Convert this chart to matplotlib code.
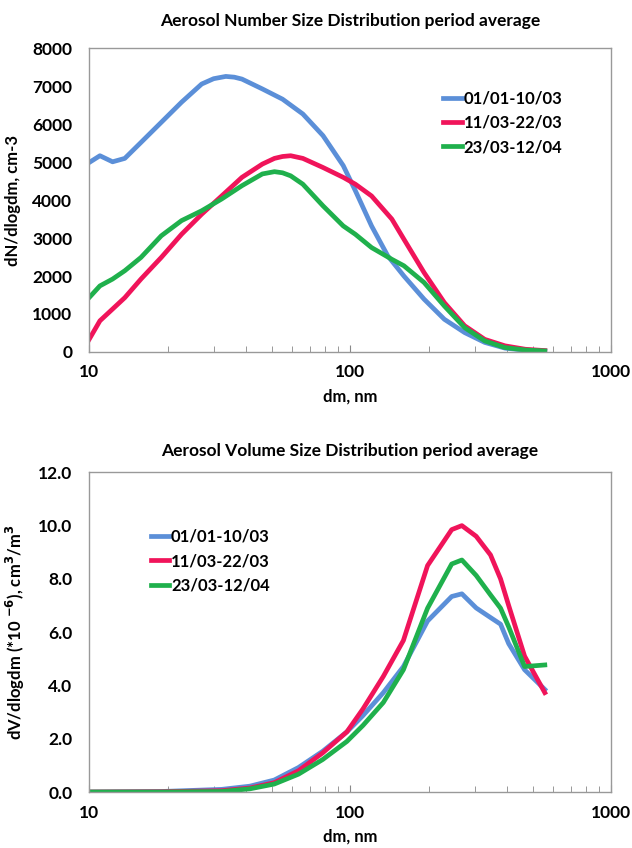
import matplotlib
matplotlib.use("Agg")
import matplotlib.pyplot as plt
from matplotlib.ticker import FixedLocator, LogLocator, NullFormatter

plt.rcParams["font.family"] = ["Lato", "DejaVu Sans"]
plt.rcParams["font.weight"] = "bold"

labels = ["01/01-10/03", "11/03-22/03", "23/03-12/04"]
colors = ["#5b8fd8", "#f0145a", "#1fb04c"]

# Number size distribution (dN/dlogdm, cm-3)
dm_n = [10, 11, 12.3, 13.7, 15.8, 18.9, 22.6, 27.0, 30.0, 33.4, 36.0, 38.5,
        46.1, 55.1, 65.9, 78.7, 94.1, 104.7, 120.8, 139.4, 160.7, 192, 229.6,
        274.6, 328, 392, 469, 557]
n_blue = [4990, 5170, 5010, 5100, 5520, 6050, 6580, 7060, 7200, 7260, 7240,
          7190, 6930, 6660, 6270, 5700, 4910, 4250, 3320, 2530, 2000, 1390,
          860, 510, 250, 100, 45, 25]
dm_n2 = [10, 11, 12.3, 13.7, 15.8, 18.9, 22.6, 27.0, 32.2, 38.5, 46.1, 51.3,
         55.1, 59.2, 65.9, 78.7, 94.1, 104.7, 120.8, 144.5, 160.7, 192, 229.6,
         274.6, 328, 392, 469, 557]
n_red = [330, 820, 1130, 1430, 1920, 2490, 3100, 3630, 4110, 4600, 4950,
         5100, 5150, 5170, 5100, 4860, 4600, 4420, 4110, 3500, 2970, 2090,
         1300, 690, 330, 160, 70, 35]
n_green = [1430, 1740, 1920, 2140, 2490, 3060, 3460, 3720, 4030, 4380, 4690,
           4750, 4720, 4640, 4420, 3850, 3320, 3100, 2750, 2440, 2270, 1830,
           1210, 640, 290, 115, 50, 25]

# Volume size distribution (dV/dlogdm, 1e-6 cm3/m3)
dm_v = [10, 18.9, 32.2, 41.3, 51.2, 63.4, 78.5, 97.2, 112, 134, 160, 198,
        245, 268, 304, 345, 377, 405, 466, 557]
v_blue = [0, 0.02, 0.1, 0.22, 0.45, 0.92, 1.53, 2.26, 2.87, 3.73, 4.71, 6.42,
          7.34, 7.44, 6.91, 6.55, 6.3, 5.57, 4.59, 3.85]
v_red = [0, 0.01, 0.05, 0.15, 0.35, 0.8, 1.47, 2.26, 3.12, 4.34, 5.69, 8.5,
         9.85, 10.0, 9.6, 8.9, 8.0, 7.0, 5.1, 3.73]
v_green = [0, 0, 0.02, 0.12, 0.3, 0.67, 1.22, 1.9, 2.5, 3.36, 4.59, 6.9,
           8.56, 8.71, 8.13, 7.4, 6.9, 6.2, 4.71, 4.77]

fig = plt.figure(figsize=(6.32, 8.48), dpi=100)
ax1 = fig.add_axes([0.141, 0.585, 0.826, 0.358])
ax2 = fig.add_axes([0.141, 0.066, 0.826, 0.377])

lw = 3.4
ax1.plot(dm_n, n_blue, color=colors[0], lw=lw, label=labels[0])
ax1.plot(dm_n2, n_red, color=colors[1], lw=lw, label=labels[1])
ax1.plot(dm_n2, n_green, color=colors[2], lw=lw, label=labels[2])
ax1.set_ylim(0, 8000)
ax1.set_yticks(range(0, 8001, 1000))
ax1.set_ylabel("dN/dlogdm, cm-3", fontsize=12, fontweight="bold", labelpad=8)
ax1.set_title("Aerosol Number Size Distribution period average",
              fontsize=12.5, fontweight="bold", pad=16)
ax1.legend(loc="upper right", bbox_to_anchor=(0.935, 0.91), frameon=False,
           fontsize=12, handlelength=1.1, handletextpad=0.1, labelspacing=0.5)

ax2.plot(dm_v, v_blue, color=colors[0], lw=lw, label=labels[0])
ax2.plot(dm_v, v_red, color=colors[1], lw=lw, label=labels[1])
ax2.plot(dm_v, v_green, color=colors[2], lw=lw, label=labels[2])
ax2.set_ylim(0, 12)
ax2.set_yticks([0, 2, 4, 6, 8, 10, 12])
ax2.set_yticklabels(["%.1f" % v for v in [0, 2, 4, 6, 8, 10, 12]])
ax2.set_ylabel("dV/dlogdm (*10 $^{\\mathbf{-6}}$), cm$^{\\mathbf{3}}$/m$^{\\mathbf{3}}$",
               fontsize=12, fontweight="bold", labelpad=8)
ax2.set_title("Aerosol Volume Size Distribution period average",
              fontsize=12.5, fontweight="bold", pad=12)
ax2.legend(loc="upper left", bbox_to_anchor=(0.09, 0.87), frameon=False,
           fontsize=12, handlelength=1.1, handletextpad=0.1, labelspacing=0.5)

for ax in (ax1, ax2):
    ax.set_xscale("log")
    ax.set_xlim(10, 1000)
    ax.xaxis.set_major_locator(FixedLocator([10, 100, 1000]))
    ax.xaxis.set_minor_locator(LogLocator(base=10, subs=range(2, 10)))
    ax.xaxis.set_minor_formatter(NullFormatter())
    ax.set_xticklabels(["10", "100", "1000"])
    ax.set_xlabel("dm, nm", fontsize=12, fontweight="bold", labelpad=6)
    ax.tick_params(axis="x", which="both", direction="in", colors="#888888",
                   labelcolor="black", labelsize=12.5, pad=9)
    ax.tick_params(axis="x", which="major", length=5)
    ax.tick_params(axis="x", which="minor", length=4)
    ax.tick_params(axis="y", length=0, labelsize=12.5, pad=12)
    for s in ax.spines.values():
        s.set_color("#999999")
        s.set_linewidth(1.0)
    for t in ax.get_xticklabels() + ax.get_yticklabels():
        t.set_fontweight("bold")

fig.savefig("out.png", dpi=100)
